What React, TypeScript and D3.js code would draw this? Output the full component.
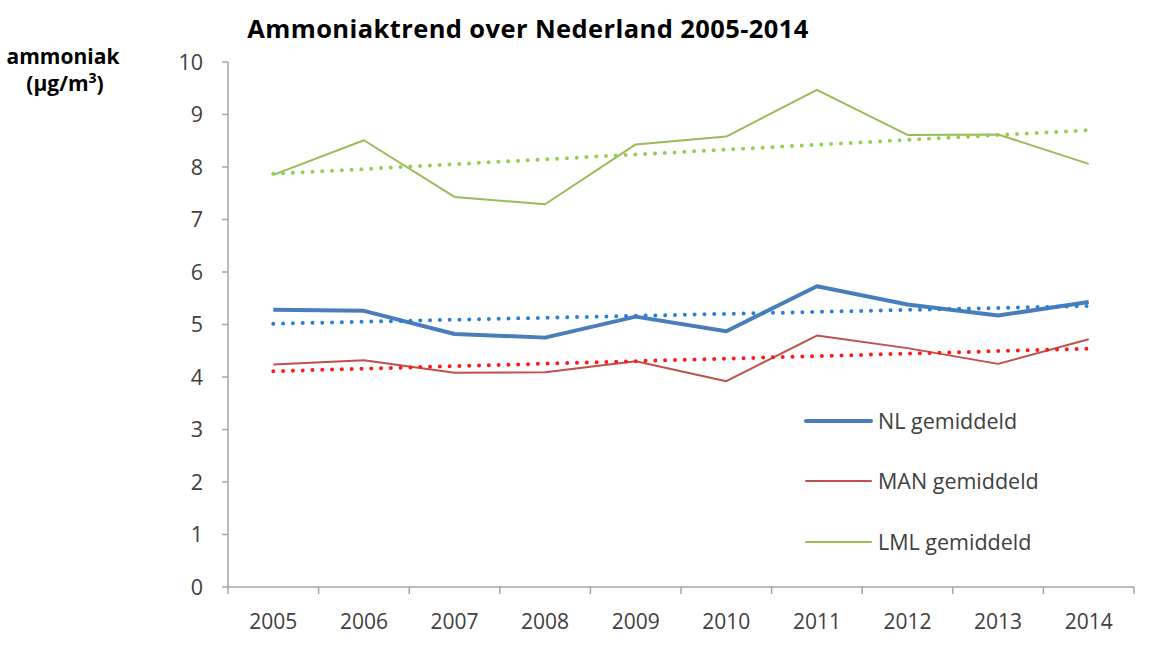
import React from "react";
import * as d3 from "d3";

const years = ["2005", "2006", "2007", "2008", "2009", "2010", "2011", "2012", "2013", "2014"];
const nlValues = [5.28, 5.26, 4.82, 4.75, 5.15, 4.87, 5.73, 5.38, 5.17, 5.43];
const manValues = [4.24, 4.32, 4.08, 4.09, 4.3, 3.92, 4.79, 4.55, 4.25, 4.72];
const lmlValues = [7.85, 8.51, 7.43, 7.29, 8.43, 8.58, 9.47, 8.61, 8.62, 8.06];
const yTicks = [0, 1, 2, 3, 4, 5, 6, 7, 8, 9, 10];
const seriesNames = ["NL gemiddeld", "MAN gemiddeld", "LML gemiddeld"];

const W = 1153, H = 659;
const left = 228, right = 1134, top = 62, bottom = 587;
const FONT = "'Open Sans', sans-serif";

function trend(vals: number[]) {
  const xs = vals.map((_, i) => i);
  const mx = d3.mean(xs)!, my = d3.mean(vals)!;
  let sxy = 0, sxx = 0;
  xs.forEach((x, i) => { sxy += (x - mx) * (vals[i] - my); sxx += (x - mx) * (x - mx); });
  const b = sxy / sxx, a = my - b * mx;
  return xs.map((x) => a + b * x);
}

export default function App() {
  const x = d3.scaleBand<string>().domain(years).range([left, right]);
  const y = d3.scaleLinear().domain([0, 10]).range([bottom, top]);
  const cx = (d: string) => (x(d) as number) + x.bandwidth() / 2;
  const line = d3.line<number>().x((_, i) => cx(years[i])).y((v) => y(v));

  const series = [
    { name: seriesNames[0], vals: nlValues, color: "#4a7ebb", w: 4, trendColor: "#2a7fd5" },
    { name: seriesNames[1], vals: manValues, color: "#c0504d", w: 2, trendColor: "#ff1a1a" },
    { name: seriesNames[2], vals: lmlValues, color: "#9bbb59", w: 2, trendColor: "#92d050" },
  ];
  const legendY = [421, 481, 542];
  const axisColor = "#a6a6a6";
  const textColor = "#404040";

  return (
    <svg width={W} height={H} style={{ display: "block", position: "absolute", left: 0, top: 0, background: "#fff" }}>
      <text x={528} y={38} textAnchor="middle" fontFamily={FONT} fontWeight="bold" fontSize={25.5} fill="#000" letterSpacing={0.4}>
        Ammoniaktrend over Nederland 2005-2014
      </text>
      <text x={63} y={64} textAnchor="middle" fontFamily={FONT} fontWeight="bold" fontSize={21} fill="#000">ammoniak</text>
      <text x={65} y={91} textAnchor="middle" fontFamily={FONT} fontWeight="bold" fontSize={21} fill="#000">
        (µg/m<tspan fontSize={14} dy={-8}>3</tspan><tspan dy={8}>)</tspan>
      </text>

      {/* y axis */}
      <line x1={left} x2={left} y1={top} y2={bottom} stroke={axisColor} strokeWidth={1.5} />
      {yTicks.map((t) => (
        <g key={t}>
          <line x1={left - 6} x2={left} y1={y(t)} y2={y(t)} stroke={axisColor} strokeWidth={1.5} />
          <text x={left - 25} y={y(t)} dy="0.36em" textAnchor="end" fontFamily={FONT} fontSize={21.5} fill={textColor}>{t}</text>
        </g>
      ))}
      {/* x axis */}
      <line x1={left} x2={right} y1={bottom} y2={bottom} stroke={axisColor} strokeWidth={1.5} />
      {years.map((yr) => (
        <line key={"t" + yr} x1={(x(yr) as number)} x2={(x(yr) as number)} y1={bottom} y2={bottom + 7} stroke={axisColor} strokeWidth={1.5} />
      ))}
      <line x1={right} x2={right} y1={bottom} y2={bottom + 7} stroke={axisColor} strokeWidth={1.5} />
      {years.map((yr) => (
        <text key={yr} x={cx(yr)} y={629} textAnchor="middle" fontFamily={FONT} fontSize={21} fill={textColor}>{yr}</text>
      ))}

      {/* series */}
      {series.map((s) => (
        <path key={s.name} d={line(s.vals)!} fill="none" stroke={s.color} strokeWidth={s.w} strokeLinejoin="round" />
      ))}
      {/* trendlines */}
      {series.map((s) => (
        <path key={"tr" + s.name} d={line(trend(s.vals))!} fill="none" stroke={s.trendColor} strokeWidth={4}
          strokeDasharray="0 9.8" strokeLinecap="round" />
      ))}

      {/* legend */}
      {series.map((s, i) => (
        <g key={"lg" + s.name}>
          <line x1={806} x2={871} y1={legendY[i]} y2={legendY[i]} stroke={s.color} strokeWidth={s.w} strokeLinecap="round" />
          <text x={878} y={legendY[i]} dy="0.36em" fontFamily={FONT} fontSize={21.5} fill={textColor}>{s.name}</text>
        </g>
      ))}
    </svg>
  );
}
